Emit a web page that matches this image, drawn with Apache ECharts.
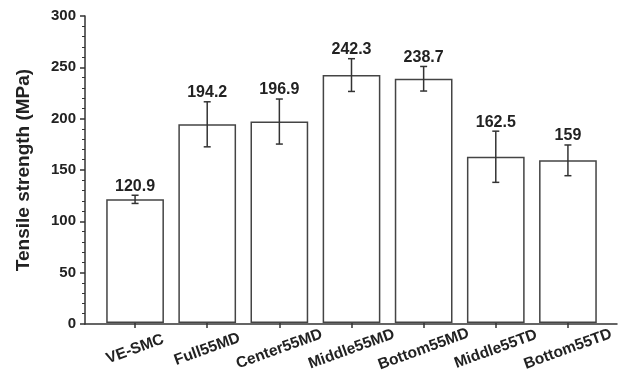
<!DOCTYPE html>
<html>
<head>
<meta charset="utf-8">
<script src="https://cdn.jsdelivr.net/npm/echarts@6/dist/echarts.min.js"></script>
<style>html,body{margin:0;padding:0;background:#fff}#c{width:627px;height:374px}</style>
</head>
<body>
<div id="c"></div>
<script>
var categories = ['VE-SMC','Full55MD','Center55MD','Middle55MD','Bottom55MD','Middle55TD','Bottom55TD'];
var values = [120.9, 194.2, 196.9, 242.3, 238.7, 162.5, 159];
var errors = [4, 22, 22, 16, 12, 25, 15];
var valueLabels = ['120.9','194.2','196.9','242.3','238.7','162.5','159'];
var yTicks = [0, 50, 100, 150, 200, 250, 300];

var FONT = 'Liberation Sans, Arial, sans-serif';
var AX = '#333';
var chart = echarts.init(document.getElementById('c'), null, {renderer:'canvas'});

var errData = values.map(function(v,i){ return [i, v, errors[i], valueLabels[i]]; });

chart.setOption({
  animation: false,
  backgroundColor: '#fff',
  grid: [
    {left: 85, right: 10, top: 16, bottom: 50},
    {left: 99, right: 23, top: 16, bottom: 50}
  ],
  xAxis: [
    {gridIndex: 0, type: 'value', min: 0, max: 1,
     axisLine: {show: true, onZero: false, lineStyle: {color: AX, width: 1.5}},
     axisTick: {show: false}, axisLabel: {show: false}, splitLine: {show: false}},
    {gridIndex: 1, type: 'category', data: categories,
     axisLine: {show: false},
     axisTick: {show: true, alignWithLabel: true, length: 5, lineStyle: {color: AX, width: 1.5}},
     axisLabel: {rotate: 20, align: 'center', verticalAlign: 'middle', margin: 26, interval: 0,
                 fontFamily: FONT, fontWeight: 'bold', fontSize: 15.5, color: '#222'},
     splitLine: {show: false}}
  ],
  yAxis: [
    {gridIndex: 0, type: 'value', min: yTicks[0], max: yTicks[yTicks.length-1], interval: 50,
     name: 'Tensile strength (MPa)', nameLocation: 'middle', nameGap: 52,
     nameTextStyle: {fontFamily: FONT, fontWeight: 'bold', fontSize: 19, color: '#222'},
     axisLine: {show: true, lineStyle: {color: AX, width: 1.5}},
     axisTick: {show: true, length: 5, lineStyle: {color: AX, width: 1.5}},
     minorTick: {show: true, splitNumber: 5, length: 3, lineStyle: {color: AX, width: 1}},
     axisLabel: {margin: 9, fontFamily: FONT, fontWeight: 'bold', fontSize: 15, color: '#222'},
     splitLine: {show: false}},
    {gridIndex: 1, type: 'value', min: yTicks[0], max: yTicks[yTicks.length-1], show: false}
  ],
  series: [
    {type: 'bar', xAxisIndex: 1, yAxisIndex: 1, data: values, barWidth: '80%',
     itemStyle: {color: '#fff', borderColor: '#444', borderWidth: 1.5}, silent: true},
    {type: 'custom', xAxisIndex: 1, yAxisIndex: 1, data: errData, silent: true, z: 5,
     renderItem: function(params, api){
       var i = api.value(0), v = api.value(1), e = api.value(2);
       var top = api.coord([i, v + e]);
       var bot = api.coord([i, v - e]);
       var cw = 3.5;
       var st = {stroke: '#333', lineWidth: 1.5};
       return {type: 'group', children: [
         {type: 'line', shape: {x1: top[0], y1: top[1], x2: bot[0], y2: bot[1]}, style: st},
         {type: 'line', shape: {x1: top[0]-cw, y1: top[1], x2: top[0]+cw, y2: top[1]}, style: st},
         {type: 'line', shape: {x1: bot[0]-cw, y1: bot[1], x2: bot[0]+cw, y2: bot[1]}, style: st},
         {type: 'text', x: top[0], y: top[1] - 1,
          style: {text: valueLabels[params.dataIndex], fill: '#222', align: 'center', verticalAlign: 'bottom',
                  font: 'bold 16px ' + FONT}}
       ]};
     }}
  ]
});
</script>
</body>
</html>
